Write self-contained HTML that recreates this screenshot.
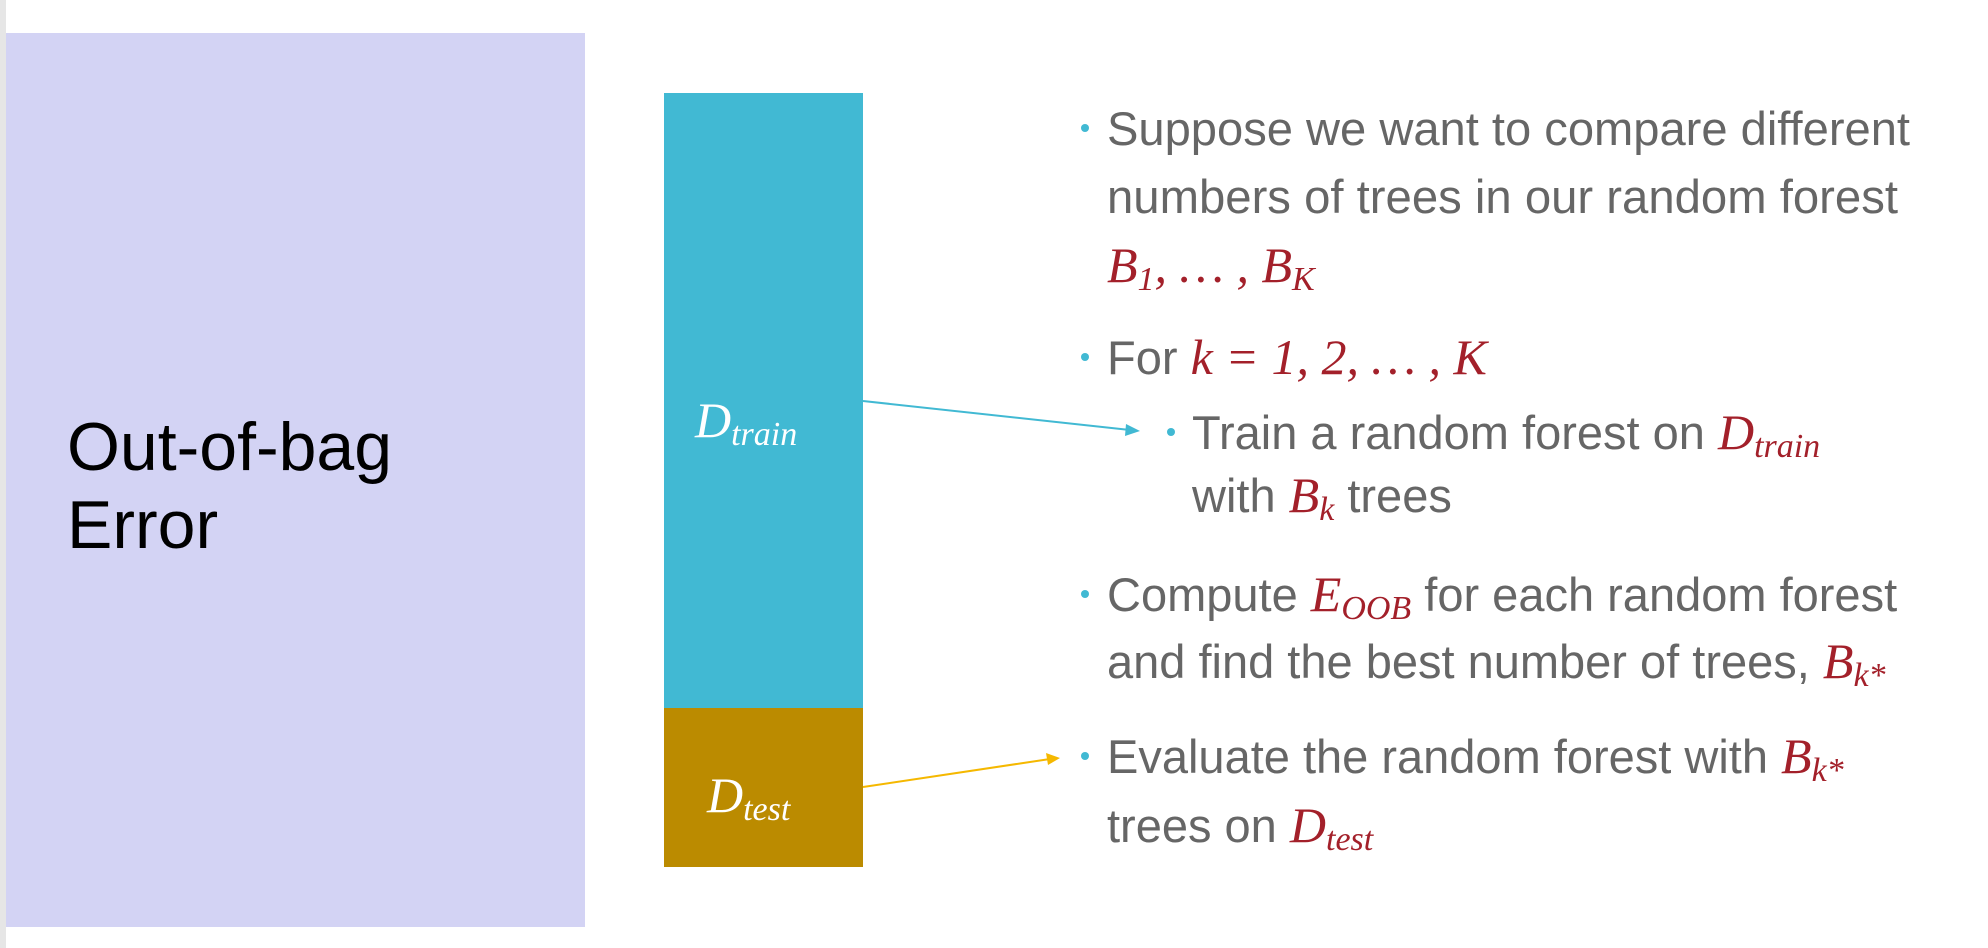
<!DOCTYPE html>
<html><head><meta charset="utf-8"><style>
html,body{margin:0;padding:0;background:#fff;}
svg{display:block}
.t{font-family:"Liberation Sans",sans-serif;font-size:47px;fill:#666666}
.m{font-family:"Liberation Serif",serif;font-style:italic;font-size:50px;fill:#a3202a}
.s{font-size:34px}
.b{fill:#41b9d3}
</style></head><body>
<svg width="1988" height="948" viewBox="0 0 1988 948" xmlns="http://www.w3.org/2000/svg">
<rect x="0" y="0" width="6" height="948" fill="#e6e6e6"/>
<rect x="6" y="33" width="579" height="894" fill="#d3d3f4"/>
<text x="67" y="470" font-family="Liberation Sans,sans-serif" font-size="68" fill="#000">Out-of-bag</text>
<text x="67" y="548" font-family="Liberation Sans,sans-serif" font-size="68" fill="#000">Error</text>
<rect x="664" y="93" width="199" height="615" fill="#41b9d3"/>
<rect x="664" y="708" width="199" height="159" fill="#bb8b00"/>
<text x="695" y="437" class="m" style="fill:#fff">D<tspan class="s" dy="8">train</tspan></text>
<text x="707" y="812" class="m" style="fill:#fff">D<tspan class="s" dy="8">test</tspan></text>
<line x1="863" y1="401" x2="1130" y2="430" stroke="#41b9d3" stroke-width="2"/>
<polygon points="1140,431 1126,424 1125,436" fill="#41b9d3"/>
<line x1="863" y1="787" x2="1050" y2="759" stroke="#f5b800" stroke-width="2"/>
<polygon points="1060,758 1046,753 1048,765" fill="#f5b800"/>
<circle cx="1085" cy="128" r="4" class="b"/>
<text x="1107" y="145" class="t" textLength="803" lengthAdjust="spacingAndGlyphs">Suppose we want to compare different</text>
<text x="1107" y="213" class="t" textLength="791" lengthAdjust="spacingAndGlyphs">numbers of trees in our random forest</text>
<text x="1107" y="282" class="m">B<tspan class="s" dy="8">1</tspan><tspan dy="-8">, … , B</tspan><tspan class="s" dy="8">K</tspan></text>
<circle cx="1085" cy="357" r="4" class="b"/>
<text x="1107" y="374" class="t">For <tspan class="m">k = 1, 2, … , K</tspan></text>
<circle cx="1171" cy="432" r="4" class="b"/>
<text x="1192" y="449" class="t">Train a random forest on <tspan class="m">D</tspan><tspan class="m s" dy="8">train</tspan></text>
<text x="1192" y="512" class="t">with <tspan class="m">B</tspan><tspan class="m s" dy="8">k</tspan><tspan dy="-8"> trees</tspan></text>
<circle cx="1085" cy="594" r="4" class="b"/>
<text x="1107" y="611" class="t">Compute <tspan class="m">E</tspan><tspan class="m s" dy="8">OOB</tspan><tspan dy="-8"> for each random forest</tspan></text>
<text x="1107" y="678" class="t">and find the best number of trees, <tspan class="m">B</tspan><tspan class="m s" dy="8">k*</tspan></text>
<circle cx="1085" cy="756" r="4" class="b"/>
<text x="1107" y="773" class="t">Evaluate the random forest with <tspan class="m">B</tspan><tspan class="m s" dy="8">k*</tspan></text>
<text x="1107" y="842" class="t">trees on <tspan class="m">D</tspan><tspan class="m s" dy="8">test</tspan></text>
</svg>
</body></html>
